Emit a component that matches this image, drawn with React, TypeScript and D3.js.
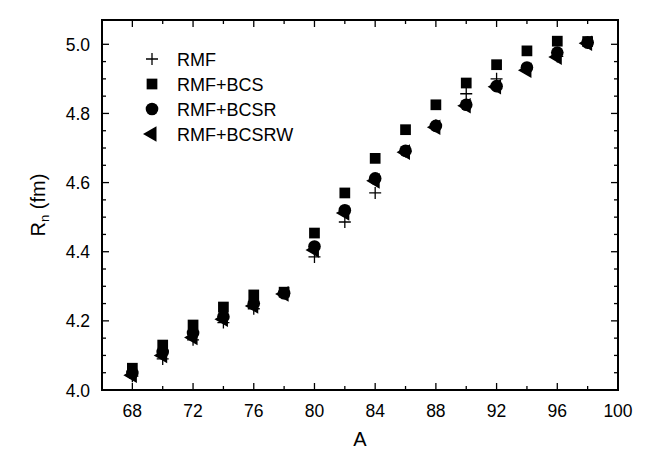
import React from "react";
import * as d3 from "d3";

const massNumbers = [68, 70, 72, 74, 76, 78, 80, 82, 84, 86, 88, 90, 92, 94, 96, 98];
const rmf = [4.04, 4.09, 4.145, 4.195, 4.235, 4.28, 4.385, 4.486, 4.57, 4.69, 4.765, 4.857, 4.9, 4.93, 4.965, 5.005];
const rmfBcs = [4.063, 4.13, 4.188, 4.24, 4.275, 4.283, 4.454, 4.57, 4.67, 4.753, 4.825, 4.888, 4.941, 4.981, 5.009, 5.008];
const rmfBcsr = [4.049, 4.11, 4.165, 4.212, 4.25, 4.28, 4.415, 4.52, 4.612, 4.692, 4.764, 4.825, 4.879, 4.933, 4.976, 5.005];
const rmfBcsrw = [4.043, 4.1, 4.152, 4.205, 4.243, 4.278, 4.405, 4.512, 4.605, 4.688, 4.76, 4.822, 4.877, 4.925, 4.963, 5.003];
const seriesNames = ["RMF", "RMF+BCS", "RMF+BCSR", "RMF+BCSRW"];
const xMajorTicks = [68, 72, 76, 80, 84, 88, 92, 96, 100];
const yMajorTicks = [4.0, 4.2, 4.4, 4.6, 4.8, 5.0];

const W = 646;
const H = 454;
const L = 102, R = 618, T = 20, B = 390;
const font = "'Liberation Sans', Arial, Helvetica, sans-serif";

const x = d3.scaleLinear().domain([66, 100]).range([L, R]);
const y = d3.scaleLinear().domain([4.0, 5.0]).range([B, 44.3]);

const squarePath = d3.symbol().type(d3.symbolSquare).size(115)() as string;
const circlePath = d3.symbol().type(d3.symbolCircle).size(125)() as string;
const trianglePath = d3.symbol().type(d3.symbolTriangle).size(105)() as string;
const plusPath = "M-6,0H6M0,-6V6";

function Marker({ kind, cx, cy }: { kind: number; cx: number; cy: number }) {
  if (kind === 0)
    return <path d={plusPath} transform={`translate(${cx},${cy})`} stroke="#000" strokeWidth={1.3} fill="none" />;
  if (kind === 1) return <path d={squarePath} transform={`translate(${cx},${cy})`} fill="#000" />;
  if (kind === 2) return <path d={circlePath} transform={`translate(${cx},${cy})`} fill="#000" />;
  return <path d={trianglePath} transform={`translate(${cx},${cy}) rotate(-90)`} fill="#000" />;
}

export default function App() {
  const series = [rmf, rmfBcs, rmfBcsr, rmfBcsrw];
  const xMinor = d3.range(66, 100.01, 2);
  const yMinor = d3.range(0, 21).map((i) => 4.0 + i * 0.05).filter((v) => y(v) >= T);
  return (
    <svg width={W} height={H} style={{ position: "absolute", left: 0, top: 0, background: "#fff" }} fontFamily={font}>
      <rect x={0} y={0} width={W} height={H} fill="#fff" />
      {xMinor.map((v) => {
        const major = xMajorTicks.includes(Math.round(v));
        const len = major ? 7 : 4;
        return (
          <g key={"xt" + v} stroke="#000" strokeWidth={1.3}>
            <line x1={x(v)} x2={x(v)} y1={B} y2={B - len} />
            <line x1={x(v)} x2={x(v)} y1={T} y2={T + len} />
          </g>
        );
      })}
      {yMinor.map((v, i) => {
        const major = i % 4 === 0;
        const len = major ? 7 : 4;
        return (
          <g key={"yt" + i} stroke="#000" strokeWidth={1.3}>
            <line x1={L} x2={L + len} y1={y(v)} y2={y(v)} />
            <line x1={R} x2={R - len} y1={y(v)} y2={y(v)} />
          </g>
        );
      })}
      <rect x={L} y={T} width={R - L} height={B - T} fill="none" stroke="#000" strokeWidth={2} />
      {xMajorTicks.map((v) => (
        <text key={"xl" + v} x={x(v)} y={417} textAnchor="middle" fontSize={17.5}>
          {v}
        </text>
      ))}
      {yMajorTicks.map((v) => (
        <text key={"yl" + v} x={90} y={y(v) + 6.5} textAnchor="end" fontSize={17.5}>
          {v.toFixed(1)}
        </text>
      ))}
      <text x={360} y={446} textAnchor="middle" fontSize={20}>A</text>
      <text transform={`translate(45,205) rotate(-90)`} textAnchor="middle" fontSize={20}>
        R<tspan fontSize={13} dy={4}>n</tspan>
        <tspan dy={-4}> (fm)</tspan>
      </text>
      {series.map((vals, k) => (
        <g key={"s" + k}>
          {vals.map((v, i) => (
            <Marker key={i} kind={k} cx={x(massNumbers[i])} cy={y(v)} />
          ))}
        </g>
      ))}
      {seriesNames.map((name, k) => (
        <g key={"lg" + k}>
          <Marker kind={k} cx={152} cy={59 + k * 25} />
          <text x={177} y={59 + k * 25 + 6.5} fontSize={18}>
            {name}
          </text>
        </g>
      ))}
    </svg>
  );
}
